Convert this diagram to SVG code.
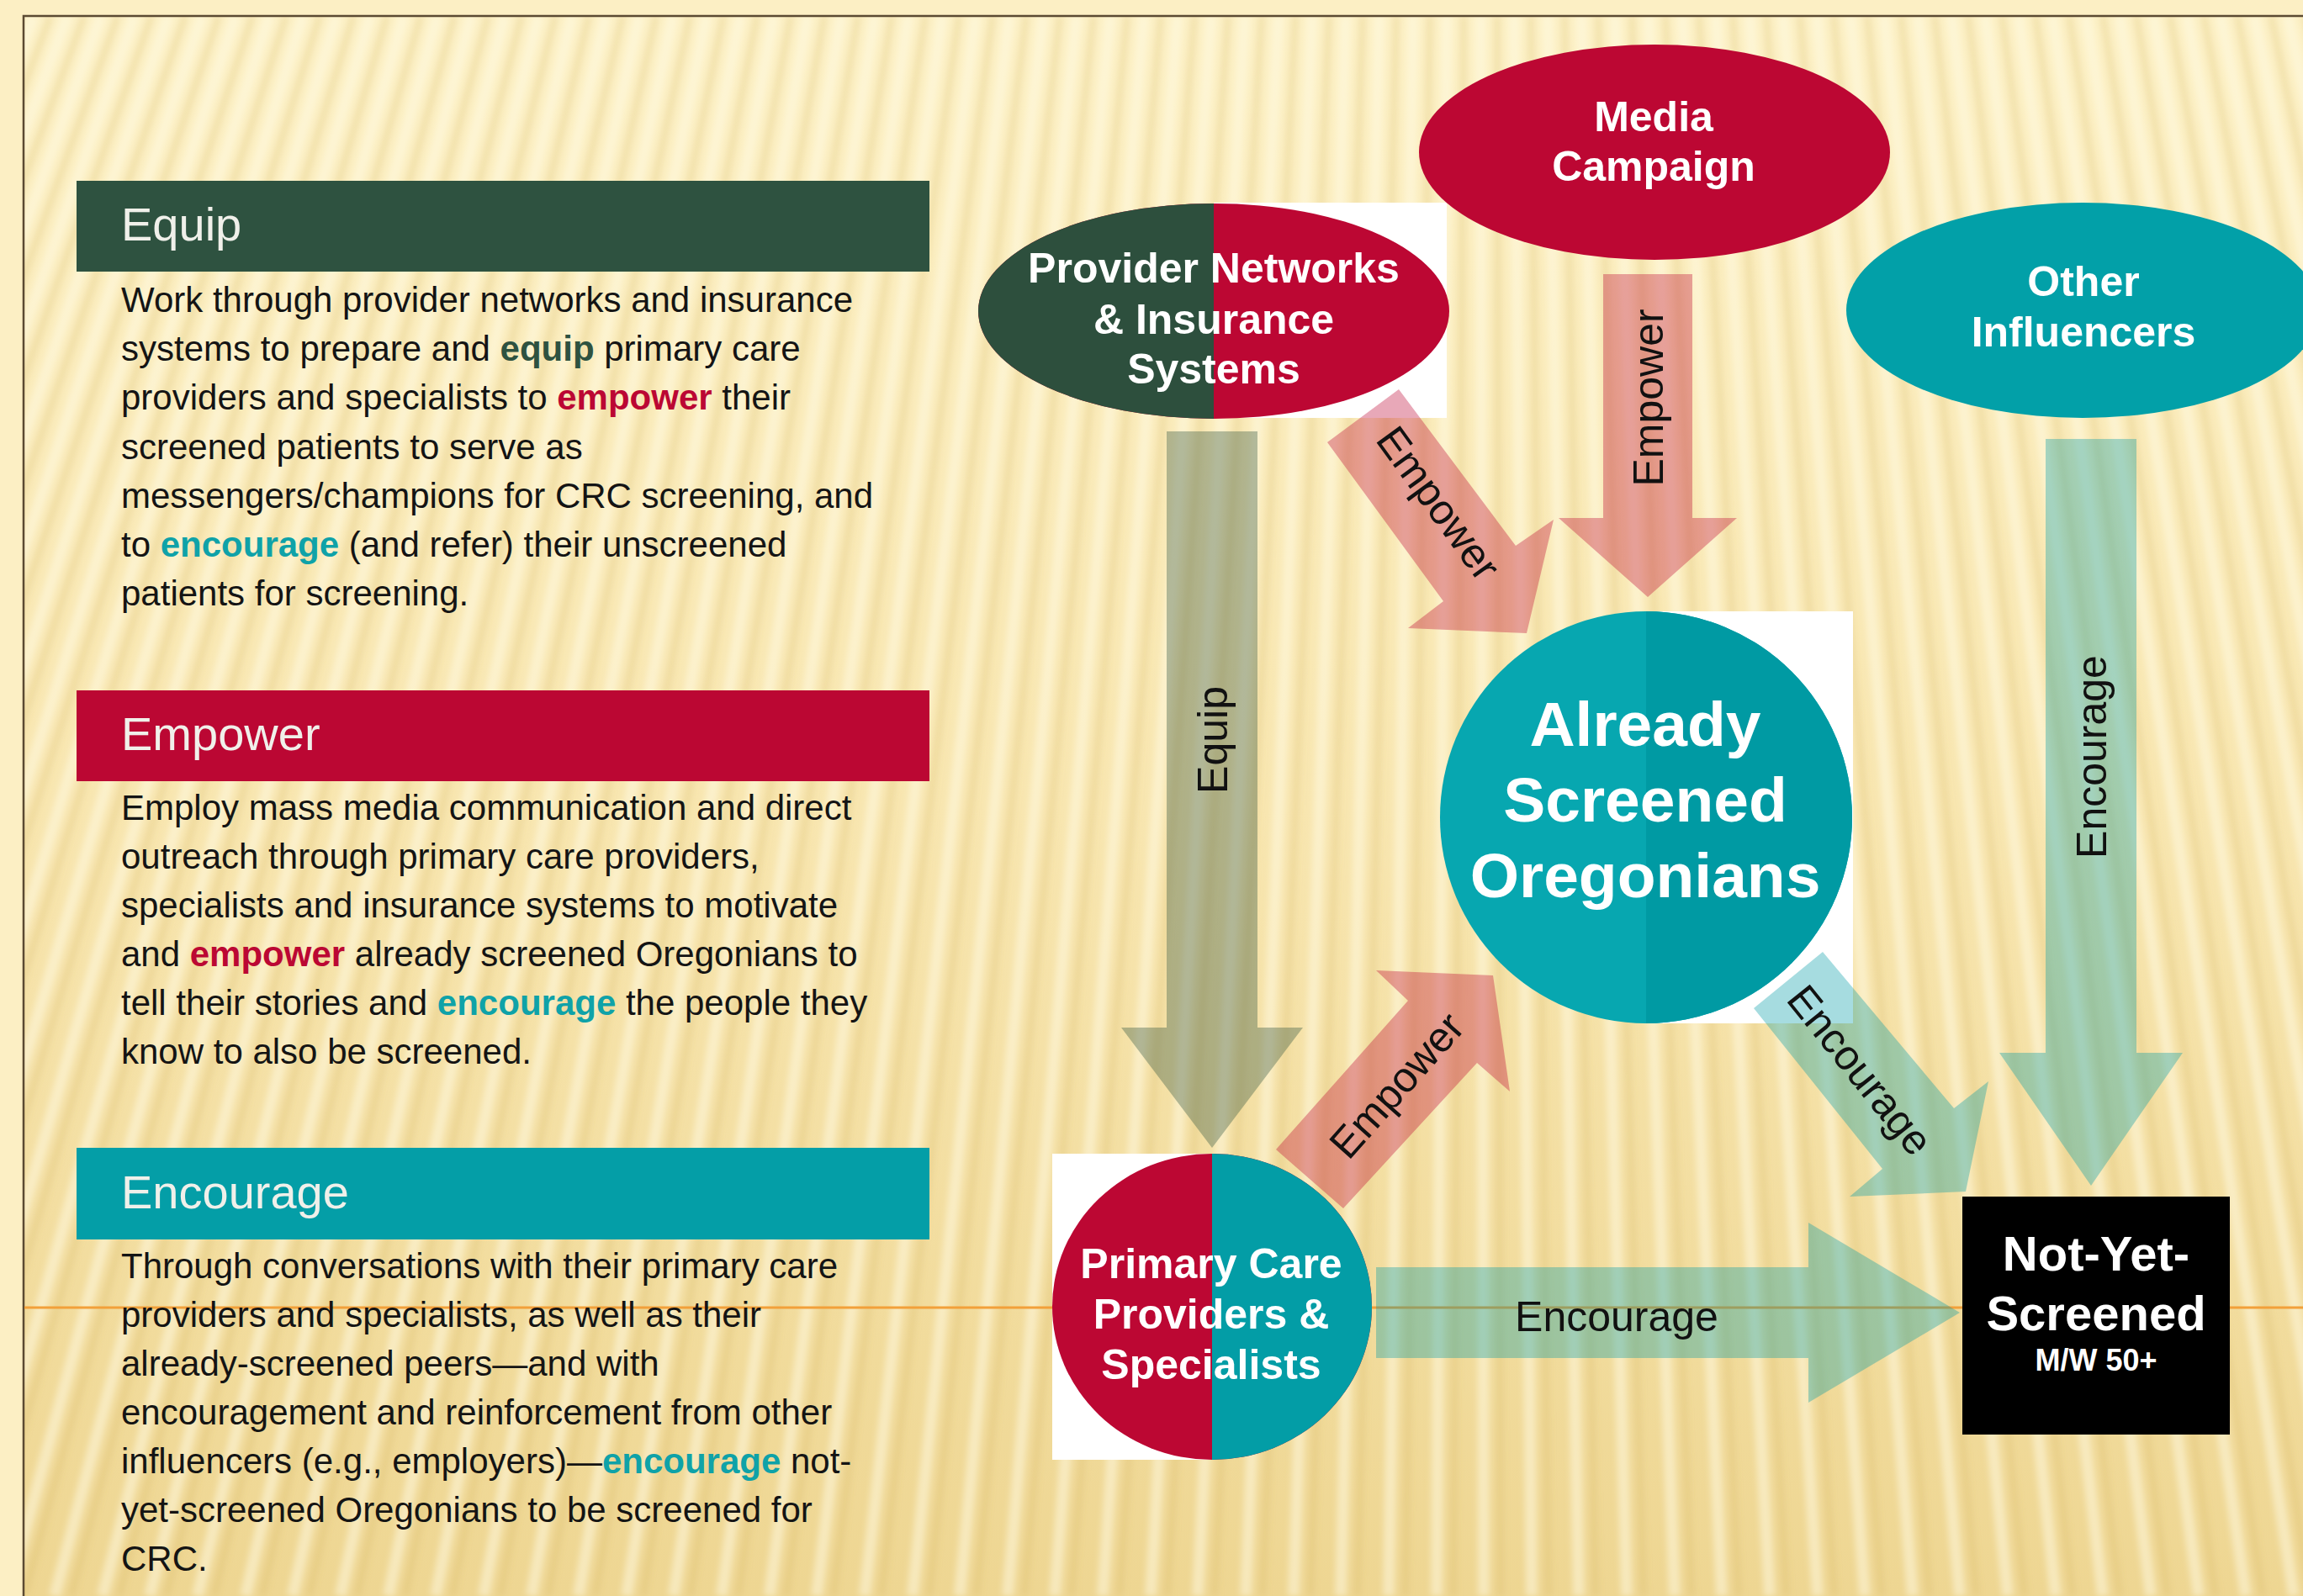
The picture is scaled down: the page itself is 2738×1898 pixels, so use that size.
<svg xmlns="http://www.w3.org/2000/svg" width="2738" height="1898" viewBox="0 0 2738 1898">
  <style>
    .txt { font-family: "Liberation Sans", Arial, Helvetica, sans-serif; }
    .body { font-size: 42px; fill: #141414; }
    .head { font-size: 56px; fill: #f0f0ea; }
    .node { font-size: 50px; font-weight: bold; fill: #ffffff; text-anchor: middle; }
    .lbl { font-size: 50px; fill: #111111; text-anchor: middle; }
    .kg { font-weight: bold; fill: #2e5240; }
    .kr { font-weight: bold; fill: #bb0733; }
    .kt { font-weight: bold; fill: #0fa2a8; }
    .arr-g { fill: #2e5240; fill-opacity: 0.36; }
    .arr-r { fill: #bc0733; fill-opacity: 0.35; }
    .arr-t { fill: #009ba5; fill-opacity: 0.35; }
    .frame { stroke: #5b4a32; stroke-width: 2.5; fill: none; }
  </style>
  <defs>
    <linearGradient id="bg" x1="0" y1="0" x2="0" y2="1">
      <stop offset="0" stop-color="#fcf0c4"/>
      <stop offset="0.5" stop-color="#f8e6b0"/>
      <stop offset="1" stop-color="#eed692"/>
    </linearGradient>
    <clipPath id="inside">
      <rect x="28" y="19" width="2710" height="1879"/>
    </clipPath>
    <clipPath id="leftHalfPN"><rect x="1100" y="200" width="343" height="340"/></clipPath>
    <clipPath id="rightHalfAS"><rect x="1957" y="700" width="300" height="540"/></clipPath>
    <clipPath id="rightHalfPC"><rect x="1441" y="1350" width="220" height="400"/></clipPath>
    <filter id="soft" x="-5%" y="-5%" width="110%" height="110%">
      <feGaussianBlur stdDeviation="3.5"/>
    </filter>
    <!-- fan of stripes converging above the page -->
    <path id="fan" d="M-40 19l-744 1879M0 19l-728 1879M40 19l-711 1879M80 19l-694 1879M120 19l-678 1879M160 19l-661 1879M200 19l-644 1879M240 19l-628 1879M280 19l-611 1879M320 19l-595 1879M360 19l-578 1879M400 19l-561 1879M440 19l-545 1879M480 19l-528 1879M520 19l-511 1879M560 19l-495 1879M600 19l-478 1879M640 19l-462 1879M680 19l-445 1879M720 19l-428 1879M760 19l-412 1879M800 19l-395 1879M840 19l-378 1879M880 19l-362 1879M920 19l-345 1879M960 19l-328 1879M1000 19l-312 1879M1040 19l-295 1879M1080 19l-279 1879M1120 19l-262 1879M1160 19l-245 1879M1200 19l-229 1879M1240 19l-212 1879M1280 19l-195 1879M1320 19l-179 1879M1360 19l-162 1879M1400 19l-146 1879M1440 19l-129 1879M1480 19l-112 1879M1520 19l-96 1879M1560 19l-79 1879M1600 19l-62 1879M1640 19l-46 1879M1680 19l-29 1879M1720 19l-12 1879M1760 19l4 1879M1800 19l21 1879M1840 19l37 1879M1880 19l54 1879M1920 19l71 1879M1960 19l87 1879M2000 19l104 1879M2040 19l121 1879M2080 19l137 1879M2120 19l154 1879M2160 19l170 1879M2200 19l187 1879M2240 19l204 1879M2280 19l220 1879M2320 19l237 1879M2360 19l254 1879M2400 19l270 1879M2440 19l287 1879M2480 19l304 1879M2520 19l320 1879M2560 19l337 1879M2600 19l353 1879M2640 19l370 1879M2680 19l387 1879M2720 19l403 1879M2760 19l420 1879"/>
  </defs>

  <!-- background -->
  <rect width="2738" height="1898" fill="#fcefc4"/>
  <g clip-path="url(#inside)">
    <rect x="28" y="19" width="2710" height="1879" fill="url(#bg)"/>
    <g filter="url(#soft)" fill="none">
      <use href="#fan" stroke="#fffbe6" stroke-width="14" stroke-opacity="0.5"/>
      <use href="#fan" transform="translate(20,0)" stroke="#c9a24f" stroke-width="9" stroke-opacity="0.16"/>
    </g>
  </g>
  <path class="frame" d="M2738 19H28V1898"/>
  <line x1="29" y1="1555" x2="2738" y2="1555" stroke="#f2a03a" stroke-width="3"/>

  <!-- left column: three strategy panels -->
  <g id="panel-equip" class="txt">
    <rect x="91" y="215" width="1014" height="108" fill="#2e5240"/>
    <text class="head" x="144" y="286">Equip</text>
    <text class="body" x="144" y="371">Work through provider networks and insurance</text>
    <text class="body" x="144" y="429">systems to prepare and <tspan class="kg">equip</tspan> primary care</text>
    <text class="body" x="144" y="487">providers and specialists to <tspan class="kr">empower</tspan> their</text>
    <text class="body" x="144" y="546">screened patients to serve as</text>
    <text class="body" x="144" y="604">messengers/champions for CRC screening, and</text>
    <text class="body" x="144" y="662">to <tspan class="kt">encourage</tspan> (and refer) their unscreened</text>
    <text class="body" x="144" y="720">patients for screening.</text>
  </g>

  <g id="panel-empower" class="txt">
    <rect x="91" y="821" width="1014" height="108" fill="#bb0733"/>
    <text class="head" x="144" y="892">Empower</text>
    <text class="body" x="144" y="975">Employ mass media communication and direct</text>
    <text class="body" x="144" y="1033">outreach through primary care providers,</text>
    <text class="body" x="144" y="1091">specialists and insurance systems to motivate</text>
    <text class="body" x="144" y="1149">and <tspan class="kr">empower</tspan> already screened Oregonians to</text>
    <text class="body" x="144" y="1207">tell their stories and <tspan class="kt">encourage</tspan> the people they</text>
    <text class="body" x="144" y="1265">know to also be screened.</text>
  </g>

  <g id="panel-encourage" class="txt">
    <rect x="91" y="1365" width="1014" height="109" fill="#049ea7"/>
    <text class="head" x="144" y="1437">Encourage</text>
    <text class="body" x="144" y="1520">Through conversations with their primary care</text>
    <text class="body" x="144" y="1578">providers and specialists, as well as their</text>
    <text class="body" x="144" y="1636">already-screened peers—and with</text>
    <text class="body" x="144" y="1694">encouragement and reinforcement from other</text>
    <text class="body" x="144" y="1752">influencers (e.g., employers)—<tspan class="kt">encourage</tspan> not-</text>
    <text class="body" x="144" y="1810">yet-screened Oregonians to be screened for</text>
    <text class="body" x="144" y="1868">CRC.</text>
  </g>

  <!-- diagram nodes -->
  <g id="node-provider-networks" class="txt">
    <rect x="1443" y="241" width="277" height="256" fill="#ffffff"/>
    <ellipse cx="1443" cy="370" rx="280" ry="128" fill="#bc0733"/>
    <ellipse cx="1443" cy="370" rx="280" ry="128" fill="#2d4f3d" clip-path="url(#leftHalfPN)"/>
    <text class="node" x="1443" y="336">Provider Networks</text>
    <text class="node" x="1443" y="397">&amp; Insurance</text>
    <text class="node" x="1443" y="456">Systems</text>
  </g>

  <g id="node-media-campaign" class="txt">
    <ellipse cx="1967" cy="181" rx="280" ry="128" fill="#bc0733"/>
    <text class="node" x="1966" y="156">Media</text>
    <text class="node" x="1966" y="215">Campaign</text>
  </g>

  <g id="node-other-influencers" class="txt">
    <ellipse cx="2476" cy="369" rx="281" ry="128" fill="#02a0a8"/>
    <text class="node" x="2477" y="352">Other</text>
    <text class="node" x="2477" y="412">Influencers</text>
  </g>

  <g id="node-already-screened" class="txt">
    <rect x="1957" y="727" width="246" height="490" fill="#ffffff"/>
    <circle cx="1957" cy="972" r="245" fill="#07a7b0"/>
    <circle cx="1957" cy="972" r="245" fill="#009aa3" clip-path="url(#rightHalfAS)"/>
    <text class="node" x="1956" y="887" style="font-size:75px">Already</text>
    <text class="node" x="1956" y="977" style="font-size:75px">Screened</text>
    <text class="node" x="1956" y="1067" style="font-size:75px">Oregonians</text>
  </g>

  <g id="node-primary-care" class="txt">
    <rect x="1251" y="1372" width="190" height="364" fill="#ffffff"/>
    <ellipse cx="1441" cy="1554" rx="190" ry="182" fill="#bc0733"/>
    <ellipse cx="1441" cy="1554" rx="190" ry="182" fill="#039da6" clip-path="url(#rightHalfPC)"/>
    <text class="node" x="1440" y="1520">Primary Care</text>
    <text class="node" x="1440" y="1580">Providers &amp;</text>
    <text class="node" x="1440" y="1640">Specialists</text>
  </g>

  <g id="node-not-yet-screened" class="txt">
    <rect x="2333" y="1423" width="318" height="283" fill="#000000"/>
    <text class="node" x="2492" y="1511" style="font-size:58px">Not-Yet-</text>
    <text class="node" x="2492" y="1582" style="font-size:58px">Screened</text>
    <text class="node" x="2492" y="1630" style="font-size:36px">M/W 50+</text>
  </g>

  <!-- connectors: block arrows with their labels -->
  <g id="connectors" class="txt">
    <polygon class="arr-g" points="1387,513 1495,513 1495,1222 1549,1222 1441,1365 1333,1222 1387,1222"/>
    <text class="lbl" transform="translate(1441,880) rotate(-90)" x="0" y="18">Equip</text>

    <polygon class="arr-r" points="1906,326 2012,326 2012,616 2065,616 1959,710 1853,616 1906,616"/>
    <text class="lbl" transform="translate(1959,473) rotate(-90)" x="0" y="18">Empower</text>

    <polygon class="arr-r" points="1578,526 1663,463 1802,649 1847,618 1815,753 1674,747 1716,715"/>
    <text class="lbl" transform="translate(1711,598) rotate(54)" x="0" y="18">Empower</text>

    <polygon class="arr-r" points="1517,1367 1674,1190 1636,1154 1775,1160 1795,1298 1756,1264 1597,1437"/>
    <text class="lbl" transform="translate(1660,1290) rotate(-48.4)" x="0" y="18">Empower</text>

    <polygon class="arr-t" points="2432,522 2540,522 2540,1252 2595,1252 2486,1410 2377,1252 2432,1252"/>
    <text class="lbl" transform="translate(2486,900) rotate(-90)" x="0" y="18">Encourage</text>

    <polygon class="arr-t" points="2085,1199 2167,1132 2323,1318 2364,1286 2337,1417 2199,1423 2238,1390"/>
    <text class="lbl" transform="translate(2212,1272) rotate(51.3)" x="0" y="18">Encourage</text>

    <polygon class="arr-t" points="1636,1507 2150,1507 2150,1454 2330,1561 2150,1668 2150,1615 1636,1615"/>
    <text class="lbl" x="1922" y="1583">Encourage</text>
  </g>
</svg>
